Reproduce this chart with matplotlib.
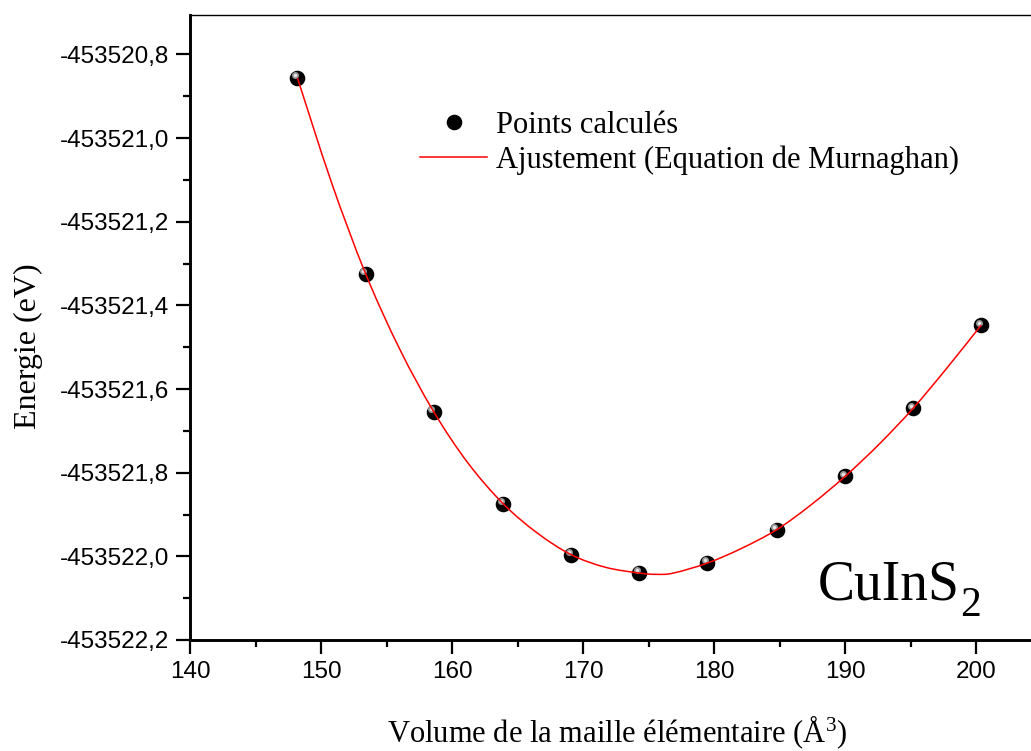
#!/usr/bin/env python3

import matplotlib
import matplotlib.pyplot as plt
import matplotlib.transforms as mtransforms
from matplotlib.path import Path
from matplotlib.patches import PathPatch
from matplotlib.lines import Line2D
from matplotlib.ticker import FixedLocator, MultipleLocator, FuncFormatter

matplotlib.rcParams['mathtext.fontset'] = 'custom'
matplotlib.rcParams['mathtext.rm'] = 'Liberation Serif'
matplotlib.rcParams['mathtext.it'] = 'Liberation Serif:italic'

# Calculated points (volume in A^3, energy in eV)
volume = [148.2, 153.4, 158.6, 163.9, 169.1, 174.3, 179.5, 184.8, 190.0, 195.2, 200.4]
energy = [-453520.856, -453521.324, -453521.654, -453521.874, -453521.996,
          -453522.039, -453522.015, -453521.936, -453521.809, -453521.646,
          -453521.447]

# Murnaghan fit curve
fit_volume = [148.2, 150.8, 153.4, 156.0, 158.6, 161.2, 163.9, 166.5, 169.1,
              171.7, 174.3, 175.6, 176.9, 179.5, 182.1, 184.8, 187.4, 190.0,
              192.6, 195.2, 197.8, 200.4]
fit_energy = [-453520.856, -453521.106, -453521.324, -453521.504, -453521.654,
              -453521.776, -453521.874, -453521.944, -453521.996, -453522.026,
              -453522.040, -453522.043, -453522.040, -453522.016, -453521.981,
              -453521.936, -453521.877, -453521.809, -453521.732, -453521.646,
              -453521.549, -453521.447]

y_ticks = [-453522.2, -453522.0, -453521.8, -453521.6, -453521.4,
           -453521.2, -453521.0, -453520.8]


def smooth_path(xs, ys):
    """Catmull-Rom through the read points, drawn as cubic Bezier pieces."""
    pts = list(zip(xs, ys))
    verts = [pts[0]]
    codes = [Path.MOVETO]
    n = len(pts)
    for i in range(n - 1):
        p0 = pts[max(i - 1, 0)]
        p1 = pts[i]
        p2 = pts[i + 1]
        p3 = pts[min(i + 2, n - 1)]
        c1 = (p1[0] + (p2[0] - p0[0]) / 6, p1[1] + (p2[1] - p0[1]) / 6)
        c2 = (p2[0] - (p3[0] - p1[0]) / 6, p2[1] - (p3[1] - p1[1]) / 6)
        verts += [c1, c2, p2]
        codes += [Path.CURVE4] * 3
    return Path(verts, codes)


W, H = 1031, 751
fig = plt.figure(figsize=(W / 100, H / 100), dpi=100)

# axes run past the right edge of the picture, as in the original
ax = fig.add_axes([190 / W, 1 - 640 / H, 851.5 / W, (640 - 14.7) / H])

ax.plot(volume, energy, 'o', color='black', markersize=10.2, zorder=3)
shine = mtransforms.offset_copy(ax.transData, fig=fig, x=-2.4, y=2.4, units='dots')
ax.plot(volume, energy, 'o', color='#9a9a9a', markersize=5, markeredgewidth=0,
        transform=shine, zorder=4)
ax.plot(volume, energy, 'o', color='#e6e6e6', markersize=2.4, markeredgewidth=0,
        transform=shine, zorder=4)
ax.add_patch(PathPatch(smooth_path(fit_volume, fit_energy), facecolor='none',
                       edgecolor='red', linewidth=1.1, zorder=5))

ax.set_xlim(140, 205)
ax.set_ylim(-453522.2, -453520.705)

ax.xaxis.set_major_locator(MultipleLocator(10))
ax.xaxis.set_minor_locator(MultipleLocator(5))
ax.yaxis.set_major_locator(FixedLocator(y_ticks))
ax.yaxis.set_minor_locator(FixedLocator([v + 0.1 for v in y_ticks[:-1]]))
ax.yaxis.set_major_formatter(FuncFormatter(lambda v, p: f'{v:.1f}'.replace('.', ',')))

ax.tick_params(which='major', direction='out', length=10, width=1.6,
               labelsize=17.5, pad=5, top=False, right=False)
ax.tick_params(which='minor', direction='out', length=5, width=1.6,
               top=False, right=False)
for lab in ax.get_xticklabels() + ax.get_yticklabels():
    lab.set_fontfamily('Liberation Sans')

ax.spines['left'].set_linewidth(2.1)
ax.spines['bottom'].set_linewidth(2.1)
ax.spines['top'].set_linewidth(1.0)
ax.spines['right'].set_visible(False)

fig.text(617 / W, 1 - 742 / H, 'Volume de la maille élémentaire (Å$^3$)',
         family='Liberation Serif', fontsize=22, ha='center', va='baseline')
fig.text(28 / W, 1 - 346 / H, 'Energie (eV)', family='Liberation Serif',
         fontsize=23, rotation=90, ha='center', va='center')

fig.text(818 / W, 1 - 599 / H, 'CuInS', family='Liberation Serif',
         fontsize=40, ha='left', va='baseline')
fig.text(960 / W, 1 - 616 / H, '2', family='Liberation Serif',
         fontsize=30, ha='left', va='baseline')

handles = [Line2D([], [], linestyle='none', marker='o', color='black', markersize=10.2),
           Line2D([], [], color='red', linewidth=1.1)]
ax.legend(handles, ['Points calculés', 'Ajustement (Equation de Murnaghan)'],
          frameon=False, loc='upper left',
          bbox_to_anchor=(420 / W, 1 - 111 / H), bbox_transform=fig.transFigure,
          borderpad=0, borderaxespad=0, handlelength=2.2, handletextpad=0.3,
          labelspacing=0.18, prop={'family': 'Liberation Serif', 'size': 22})

fig.savefig('out.png', dpi=100)
